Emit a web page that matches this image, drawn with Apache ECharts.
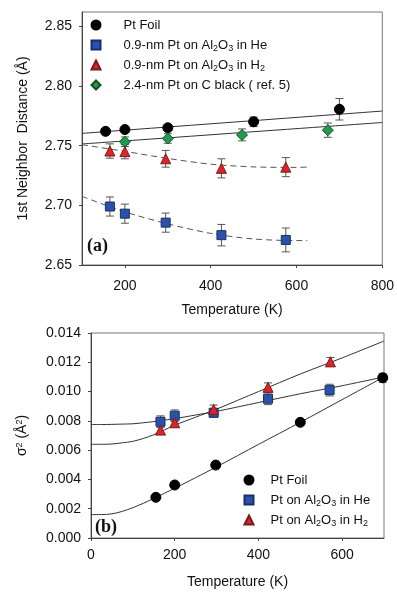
<!DOCTYPE html>
<html><head><meta charset="utf-8">
<script src="https://cdn.jsdelivr.net/npm/echarts@6/dist/echarts.min.js"></script>
<style>html,body{margin:0;padding:0;background:#fff}#c{width:397px;height:592px}</style>
</head><body><div id="c"></div>
<script>
// ---------- Panel (a): first-neighbor distance ----------
const aFoilT = [155, 200, 300, 500, 700];
const aFoilD = [2.762, 2.7635, 2.765, 2.770, 2.7805];
const aFoilErr = [0, 0, 0.002, 0.004, 0.009];

const aHeT = [165, 200, 295, 425, 575];
const aHeD = [2.699, 2.693, 2.6855, 2.675, 2.671];
const aHeErr = [0.008, 0.008, 0.008, 0.009, 0.010];

const aH2T = [165, 200, 295, 425, 575];
const aH2D = [2.7455, 2.745, 2.739, 2.731, 2.732];
const aH2Err = [0.006, 0.006, 0.007, 0.008, 0.008];

const aCT = [200, 300, 473, 673];
const aCD = [2.7533, 2.756, 2.759, 2.763];
const aCErr = [0.004, 0.004, 0.005, 0.006];

const aFoilFitT = [100, 800];
const aFoilFitD = [2.7603, 2.779];
const aCFitT = [100, 800];
const aCFitD = [2.7514, 2.7694];
const aH2FitT = [100, 200, 300, 400, 500, 600, 625];
const aH2FitD = [2.7508, 2.7452, 2.7393, 2.7345, 2.7322, 2.7318, 2.732];
const aHeFitT = [100, 200, 300, 400, 500, 600, 625];
const aHeFitD = [2.7075, 2.6945, 2.6845, 2.6765, 2.6718, 2.6705, 2.6705];

const aXLabels = [200, 400, 600, 800];
const aYLabels = [2.65, 2.70, 2.75, 2.80, 2.85];

// ---------- Panel (b): sigma^2 ----------
const bFoilT = [155, 200, 298, 500, 697];
const bFoilS = [0.00278, 0.00362, 0.00498, 0.0079, 0.01094];
const bFoilErr = [0, 0, 0, 0, 0.0003];

const bHeT = [166, 200, 293, 423, 570];
const bHeS = [0.00794, 0.00835, 0.00855, 0.00951, 0.0101];
const bHeErr = [0.0004, 0.0004, 0.0003, 0.0004, 0.0004];

const bH2T = [166, 200, 293, 423, 572];
const bH2S = [0.00737, 0.00787, 0.00878, 0.01029, 0.01203];
const bH2Err = [0.0003, 0.0003, 0.0003, 0.0003, 0.0003];

const bFitT = [0, 25, 50, 75, 100, 125, 150, 200, 250, 300, 400, 500, 600, 700];
const bFoilFit = [0.0016, 0.0016, 0.00165, 0.00182, 0.00207, 0.00237, 0.0027, 0.0034, 0.00412, 0.00486, 0.00639, 0.0079, 0.00945, 0.0110];
const bHeFit = [0.00775, 0.00775, 0.00776, 0.00778, 0.0078, 0.00787, 0.00795, 0.00815, 0.0084, 0.00865, 0.00925, 0.00985, 0.0104, 0.0110];
const bH2Fit = [0.0064, 0.0064, 0.00642, 0.0065, 0.0066, 0.0068, 0.00705, 0.0077, 0.00825, 0.0088, 0.0100, 0.0112, 0.0123, 0.01345];

const bXLabels = [0, 200, 400, 600];

const namesA = ['Pt Foil', '0.9-nm Pt on Al2O3 in He', '0.9-nm Pt on Al2O3 in H2', '2.4-nm Pt on C black ( ref. 5)'];
const namesB = ['Pt Foil ', 'Pt on Al2O3 in He', 'Pt on Al2O3 in H2'];

const zip = (xs, ys) => xs.map((x, i) => [x, ys[i]]);
const zip3 = (xs, ys, es) => xs.map((x, i) => [x, ys[i], es[i]]);

const FONT = 'Liberation Sans, Arial, sans-serif';
const BLUE = '#2a52a8', RED = '#d8262a', GREEN = '#1d9e4c';

function errSeries(data, xi, yi) {
  return {
    type: 'custom', xAxisIndex: xi, yAxisIndex: yi, z: 2, silent: true,
    data: data,
    renderItem: function (params, api) {
      const x = api.value(0), y = api.value(1), e = api.value(2);
      if (!e) return null;
      const top = api.coord([x, y + e]);
      const bot = api.coord([x, y - e]);
      const w = 4;
      const st = { stroke: '#555', lineWidth: 1 };
      return {
        type: 'group', children: [
          { type: 'line', shape: { x1: top[0], y1: top[1], x2: bot[0], y2: bot[1] }, style: st },
          { type: 'line', shape: { x1: top[0] - w, y1: top[1], x2: top[0] + w, y2: top[1] }, style: st },
          { type: 'line', shape: { x1: bot[0] - w, y1: bot[1], x2: bot[0] + w, y2: bot[1] }, style: st }
        ]
      };
    }
  };
}
function fitSeries(data, xi, yi, dashed) {
  return {
    type: 'line', xAxisIndex: xi, yAxisIndex: yi, data: data, smooth: 0.3,
    showSymbol: false, symbol: 'none', silent: true, z: 1,
    lineStyle: { color: dashed ? '#555' : '#333', width: 1, type: dashed ? [6, 4] : 'solid' }
  };
}
function ptSeries(name, data, xi, yi, symbol, size, color, border) {
  return {
    name: name, type: 'scatter', xAxisIndex: xi, yAxisIndex: yi, data: data,
    symbol: symbol, symbolSize: size, z: 3,
    itemStyle: { color: color, borderColor: border, borderWidth: 1, opacity: 1 }
  };
}
function richName(n) {
  return n.replace(/Al2O3/g, 'Al{s|2}O{s|3}').replace(/H2$/, 'H{s|2}');
}
const legendRich = { s: { fontFamily: FONT, fontSize: 9, color: '#111', lineHeight: 8, verticalAlign: 'bottom' } };
const axisLab = { fontFamily: FONT, fontSize: 14, color: '#111' };

const option = {
  animation: false,
  backgroundColor: '#fff',
  grid: [
    { left: 82, top: 12, width: 301, height: 253, show: true, borderColor: '#777', borderWidth: 1, containLabel: false },
    { left: 91, top: 333, width: 293, height: 205, show: true, borderColor: '#777', borderWidth: 1, containLabel: false }
  ],
  xAxis: [
    {
      gridIndex: 0, type: 'value', min: 100, max: 800, interval: 100,
      name: 'Temperature (K)', nameLocation: 'middle', nameGap: 38,
      nameTextStyle: { fontFamily: FONT, fontSize: 14, color: '#111' },
      axisLine: { lineStyle: { color: '#444' } },
      axisTick: { show: true, length: 3, inside: false, customValues: aXLabels, lineStyle: { color: '#444' } },
      axisLabel: Object.assign({ margin: 14, customValues: aXLabels }, axisLab),
      splitLine: { show: false }
    },
    {
      gridIndex: 1, type: 'value', min: 0, max: 700, interval: 100,
      name: 'Temperature (K)', nameLocation: 'middle', nameGap: 37,
      nameTextStyle: { fontFamily: FONT, fontSize: 14, color: '#111' },
      axisLine: { lineStyle: { color: '#444' } },
      axisTick: { show: true, length: 3, customValues: bXLabels, lineStyle: { color: '#444' } },
      axisLabel: Object.assign({ margin: 10, customValues: bXLabels }, axisLab),
      splitLine: { show: false }
    }
  ],
  yAxis: [
    {
      gridIndex: 0, type: 'value', min: 2.65, max: 2.862, interval: 0.05,
      name: '1st Neighbor  Distance (Å)', nameLocation: 'middle', nameGap: 52,
      nameTextStyle: { fontFamily: FONT, fontSize: 14, color: '#111' },
      axisLine: { show: true, lineStyle: { color: '#444' } },
      axisTick: { show: true, length: 3, customValues: aYLabels, lineStyle: { color: '#444' } },
      axisLabel: Object.assign({ margin: 10, customValues: aYLabels, formatter: v => v.toFixed(2) }, axisLab),
      splitLine: { show: false }
    },
    {
      gridIndex: 1, type: 'value', min: 0, max: 0.014, interval: 0.002,
      name: '{g|σ}{p|2} (Å{p|2})', nameLocation: 'middle', nameGap: 62,
      nameTextStyle: { fontFamily: FONT, fontSize: 14, color: '#111',
        rich: { g: { fontFamily: FONT, fontSize: 14, color: '#111' }, p: { fontFamily: FONT, fontSize: 9, color: '#111', lineHeight: 8, verticalAlign: 'top' } } },
      axisLine: { show: true, lineStyle: { color: '#444' } },
      axisTick: { show: true, length: 3, lineStyle: { color: '#444' } },
      axisLabel: Object.assign({ margin: 10, formatter: v => v.toFixed(3) }, axisLab),
      splitLine: { show: false }
    }
  ],
  legend: [
    {
      orient: 'vertical', left: 85.5, top: 12, itemWidth: 9, itemHeight: 9, itemGap: 4,
      data: namesA, selectedMode: false,
      textStyle: { fontFamily: FONT, fontSize: 13, color: '#111', lineHeight: 16, padding: [0, 0, 0, 18], rich: legendRich },
      formatter: richName
    },
    {
      orient: 'vertical', left: 238.5, top: 467, itemWidth: 9, itemHeight: 9, itemGap: 4,
      data: namesB, selectedMode: false,
      textStyle: { fontFamily: FONT, fontSize: 13, color: '#111', lineHeight: 16, padding: [0, 0, 0, 12], rich: legendRich },
      formatter: n => richName(n.trim())
    }
  ],
  graphic: [
    { type: 'text', left: 87, top: 237, style: { text: '(a)', font: 'bold 18px "Liberation Serif", "Times New Roman", serif', fill: '#111' } },
    { type: 'text', left: 95, top: 518, style: { text: '(b)', font: 'bold 18px "Liberation Serif", "Times New Roman", serif', fill: '#111' } }
  ],
  series: [
    fitSeries(zip(aFoilFitT, aFoilFitD), 0, 0, false),
    fitSeries(zip(aCFitT, aCFitD), 0, 0, false),
    fitSeries(zip(aH2FitT, aH2FitD), 0, 0, true),
    fitSeries(zip(aHeFitT, aHeFitD), 0, 0, true),
    errSeries(zip3(aFoilT, aFoilD, aFoilErr), 0, 0),
    errSeries(zip3(aHeT, aHeD, aHeErr), 0, 0),
    errSeries(zip3(aH2T, aH2D, aH2Err), 0, 0),
    errSeries(zip3(aCT, aCD, aCErr), 0, 0),
    ptSeries(namesA[0], zip(aFoilT, aFoilD), 0, 0, 'circle', 10, '#000', '#000'),
    ptSeries(namesA[1], zip(aHeT, aHeD), 0, 0, 'rect', 9, BLUE, '#1b2f66'),
    ptSeries(namesA[2], zip(aH2T, aH2D), 0, 0, 'triangle', 10, RED, '#7a1a1a'),
    ptSeries(namesA[3], zip(aCT, aCD), 0, 0, 'diamond', 11, GREEN, '#1c4a2a'),

    fitSeries(zip(bFitT, bFoilFit), 1, 1, false),
    fitSeries(zip(bFitT, bHeFit), 1, 1, false),
    fitSeries(zip(bFitT, bH2Fit), 1, 1, false),
    errSeries(zip3(bFoilT, bFoilS, bFoilErr), 1, 1),
    errSeries(zip3(bHeT, bHeS, bHeErr), 1, 1),
    errSeries(zip3(bH2T, bH2S, bH2Err), 1, 1),
    ptSeries(namesB[0], zip(bFoilT, bFoilS), 1, 1, 'circle', 10, '#000', '#000'),
    ptSeries(namesB[1], zip(bHeT, bHeS), 1, 1, 'rect', 9, BLUE, '#1b2f66'),
    ptSeries(namesB[2], zip(bH2T, bH2S), 1, 1, 'triangle', 10, RED, '#7a1a1a')
  ]
};
const chart = echarts.init(document.getElementById('c'), null, { renderer: 'canvas' });
chart.setOption(option);
</script>
</body></html>
